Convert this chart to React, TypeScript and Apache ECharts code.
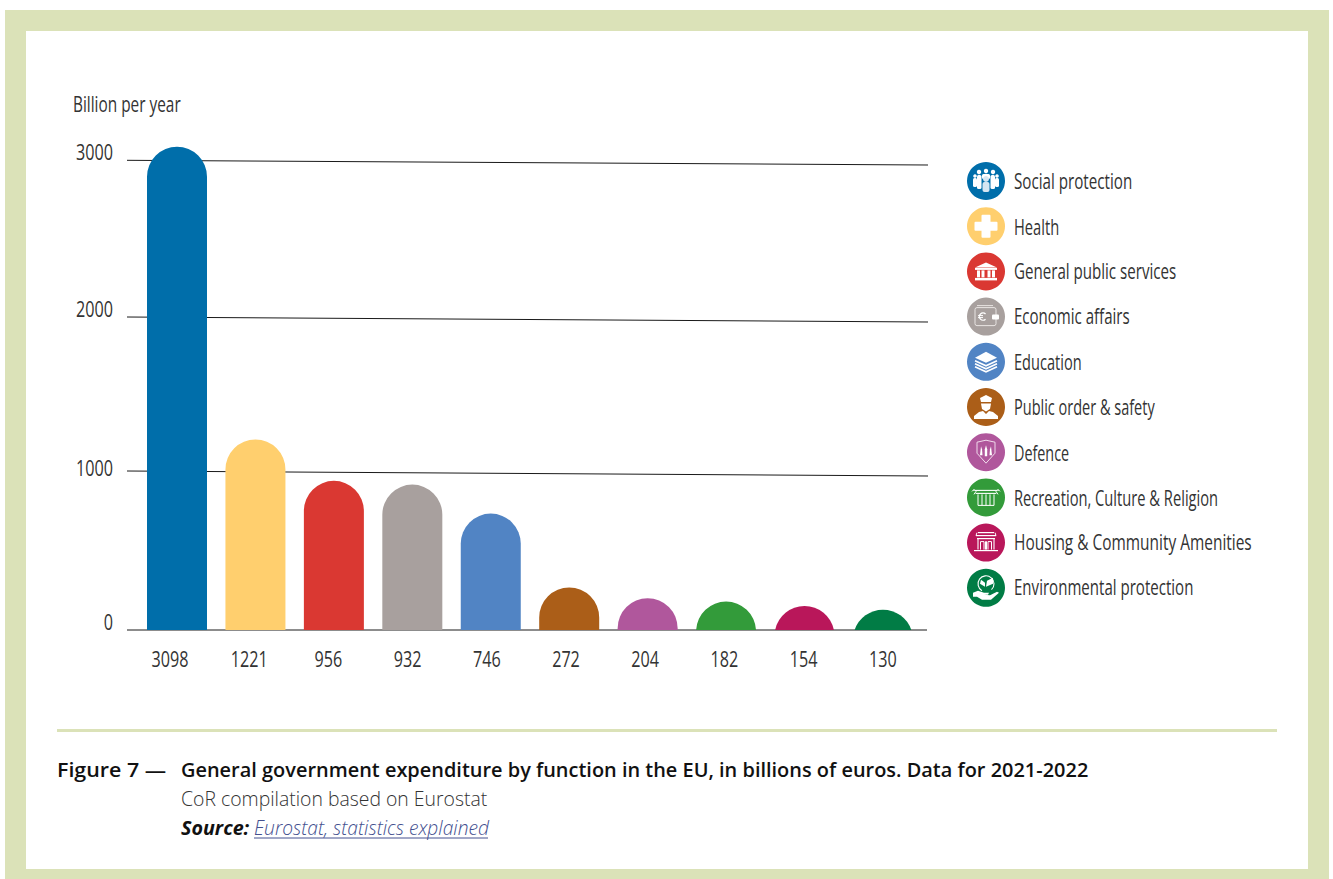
import React, { useEffect, useRef } from "react";
import * as echarts from "echarts";

const functions = [
  "Social protection",
  "Health",
  "General public services",
  "Economic affairs",
  "Education",
  "Public order & safety",
  "Defence",
  "Recreation, Culture & Religion",
  "Housing & Community Amenities",
  "Environmental protection",
];
const values = [3098, 1221, 956, 932, 746, 272, 204, 182, 154, 130];
const colors = ["#006eaa", "#ffcf6e", "#da3832", "#a8a09e", "#5184c4", "#ab5e18", "#b0579c", "#339b3a", "#b9175a", "#017c45"];
const gridValues = [1000, 2000, 3000];
const tickValues = [0, 1000, 2000, 3000];
const legendSqueeze = [0.69, 0.668, 0.687, 0.684, 0.663, 0.66, 0.653, 0.668, 0.702, 0.685];
const gridTilt: Record<number, [number, number]> = { 0: [0, 0], 1000: [-3, 2], 2000: [-1, 4], 3000: [-1.7, 3] };
const tickLift: Record<number, number> = { 0: -8.5, 1000: -6.5, 2000: -9.5, 3000: -10.5 };

const BODY = '"Open Sans","Noto Sans",sans-serif';
const FRAME = "#dbe2b8";
const TEXT = "#333333";
const COND = { fontFamily: BODY, fontSize: 22, fontWeight: 400 };

const W = "#ffffff";
const r = (x: number, y: number, w: number, h: number, fill = W, rad = 0) => ({ type: "rect", shape: { x, y, width: w, height: h, r: rad }, style: { fill }, z: 100 });
const c = (x: number, y: number, rad: number, fill = W) => ({ type: "circle", shape: { cx: x, cy: y, r: rad }, style: { fill }, z: 100 });
const p = (pts: number[][], fill = W) => ({ type: "polygon", shape: { points: pts }, style: { fill }, z: 100 });
const l = (pts: number[][], w = 1, stroke = W) => ({ type: "polyline", shape: { points: pts }, style: { stroke, lineWidth: w, fill: "none" }, z: 100 });

const glyphs: any[][] = [
  [
    c(-7, -9, 2.2), c(0, -10, 2.2), c(7, -9, 2.2), c(-11, -5, 1.8), c(11, -5, 1.8),
    r(-13, -3, 4, 9, W, 1.5), r(9, -3, 4, 9, W, 1.5), r(-9, -6, 4.5, 14, W, 1.5), r(4.5, -6, 4.5, 14, W, 1.5),
    r(-4, -7, 8, 5, W, 1.5), c(0, -2, 3, "#d5e6f2"), r(-3.5, 1, 7, 10, "#d5e6f2", 2),
  ],
  [r(-4.5, -11.5, 9, 23, W, 1), r(-11.5, -4.5, 23, 9, W, 1)],
  [
    p([[-11, -4], [0, -9], [11, -4]]), r(-11, -3.5, 22, 2),
    r(-9, -1, 3, 7), r(-4.5, -1, 3, 7), r(1.5, -1, 3, 7), r(6, -1, 3, 7), r(-11, 6.5, 22, 2.5),
  ],
  [
    { type: "rect", shape: { x: -11, y: -9, width: 21, height: 18, r: 2 }, style: { fill: "none", stroke: "#e8e4e2", lineWidth: 1 }, z: 100 },
    l([[-9, -11], [7, -11]], 1, "#e8e4e2"), r(6, -2, 7, 5, W, 1),
    { type: "arc", shape: { cx: -3, cy: 0, r: 3.6, startAngle: 0.8, endAngle: 5.5 }, style: { stroke: W, lineWidth: 1.3, fill: "none" }, z: 100 },
    l([[-8, -1], [-3, -1]], 1), l([[-8, 1], [-3, 1]], 1),
  ],
  [
    p([[-11, -4], [0, -10], [11, -4], [0, 1]]),
    l([[-11, -1], [0, 4], [11, -1]], 1.6), l([[-11, 2], [0, 7], [11, 2]], 1.6), l([[-11, 5], [0, 10], [11, 5]], 1.6),
  ],
  [
    p([[-6, -9], [0, -12], [6, -9], [5, -5], [-5, -5]]), r(-5, -5, 10, 1.2, "#ab5e18"),
    p([[-5, -3.6], [5, -3.6], [4, 2], [0, 4.5], [-4, 2]]),
    p([[-12, 12], [-12, 9], [-7, 5], [-3, 4], [0, 7], [3, 4], [7, 5], [12, 9], [12, 12]]),
  ],
  [
    l([[-9, -10], [0, -12], [9, -10], [9, 1], [0, 11], [-9, 1], [-9, -10]], 1, "#f0dcec"),
    p([[-5, -6], [-4, -3], [-3.5, 3], [-6, 3]]), p([[0, -7], [1.2, -3], [1.2, 4], [-1.2, 4], [-1.2, -3]]), p([[5, -6], [6, 3], [3.5, 3], [4, -3]]),
  ],
  [
    l([[-13, -7], [13, -7]], 1.1), l([[-11, -4], [11, -4]], 1.1),
    c(-12, -5, 2, "#339b3a"), c(12, -5, 2, "#339b3a"), l([[-14, -6], [-12, -8], [-10, -6], [-12, -3]], 1), l([[14, -6], [12, -8], [10, -6], [12, -3]], 1),
    l([[-8, -3], [-8, 8], [8, 8], [8, -3]], 1), l([[-4, -3], [-4, 8]], 1), l([[0, -3], [0, 8]], 1), l([[4, -3], [4, 8]], 1),
  ],
  [
    l([[-8, -10], [8, -10]], 1.2), l([[-10, -7], [10, -7]], 1.2), l([[-9, -10], [-10, -7]], 1), l([[9, -10], [10, -7]], 1),
    l([[-9, -4], [9, -4]], 1.2), l([[-8, -4], [-8, 7]], 1.1), l([[8, -4], [8, 7]], 1.1),
    l([[-5.5, 7], [-5.5, -1], [-2, -1], [-2, 7]], 1), l([[2, 7], [2, -1], [5.5, -1], [5.5, 7]], 1), l([[-.5, 7], [-.5, -1], [.5, -1], [.5, 7]], 1),
    l([[-12, 8], [12, 8]], 1.2),
  ],
  [
    { type: "arc", shape: { cx: 0, cy: -4, r: 8, startAngle: 2.1, endAngle: 7.1 }, style: { stroke: W, lineWidth: 1.1, fill: "none" }, z: 100 },
    p([[-1, -1], [-6, -4], [-5, -8], [-1, -5]]), p([[0, -1], [1, -7], [7, -10], [7, -4]]),
    p([[-13, 5], [-8, 3], [-2, 5], [3, 5], [2, 7], [-2, 7], [4, 7.5], [11, 4], [13, 5], [5, 12], [-4, 12], [-9, 9], [-13, 9]]),
  ],
];

const ICON_X = 986;
const ICON_Y0 = 181;
const ICON_STEP = 45.2;

const text = (str: string, x: number, y: number, font: any, sx = 1, fill = "#111111") => ({
  type: "text",
  x,
  y,
  scaleX: sx,
  style: { text: str, fill, fontFamily: BODY, verticalAlign: "middle", align: "left", ...font },
  z: 10,
});

function renderBar(params: any, api: any) {
  const idx = api.value(0);
  const top = api.coord([idx, api.value(1)]);
  const base = api.coord([idx, 0]);
  const cx = top[0];
  const rad = 30;
  const h = base[1] - top[1];
  const half = h >= rad ? rad : Math.sqrt(rad * rad - (rad - h) * (rad - h));
  const pathData =
    h >= rad
      ? `M${cx - rad} ${base[1]}L${cx - rad} ${top[1] + rad}A${rad} ${rad} 0 0 1 ${cx + rad} ${top[1] + rad}L${cx + rad} ${base[1]}Z`
      : `M${cx - half} ${base[1]}A${rad} ${rad} 0 0 1 ${cx + half} ${base[1]}Z`;
  return {
    type: "path",
    shape: { pathData, x: cx - half, y: top[1], width: half * 2, height: h, layout: "cover" },
    style: { fill: api.visual("color") },
  };
}

function renderGridLine(params: any, api: any) {
  const v = api.value(1);
  const y = api.coord([0, v])[1];
  const tilt = gridTilt[v];
  return {
    type: "line",
    shape: { x1: 127, y1: y + tilt[0], x2: v === 0 ? 927 : 928, y2: y + tilt[1] },
    style: { stroke: "#1a1a1a", lineWidth: 1 },
  };
}

function renderYLabel(params: any, api: any) {
  const v = api.value(1);
  const y = api.coord([0, v])[1];
  return {
    type: "text",
    x: 113,
    y: y + tickLift[v],
    scaleX: 0.735,
    style: { ...COND, text: String(v), fill: TEXT, align: "right", verticalAlign: "middle" },
  };
}

function renderXLabel(params: any, api: any) {
  const idx = api.value(0);
  const pt = api.coord([idx, 0]);
  return {
    type: "text",
    x: pt[0],
    y: pt[1] + 28,
    scaleX: 0.735,
    style: { ...COND, text: String(api.value(1)), fill: TEXT, align: "center", verticalAlign: "middle" },
  };
}

export default function App() {
  const ref = useRef<HTMLDivElement>(null);
  useEffect(() => {
    const chart = echarts.init(ref.current!, undefined, { renderer: "svg" });
    const graphic: any[] = [
      { type: "rect", shape: { x: 5, y: 10, width: 1324, height: 869 }, style: { fill: FRAME }, z: -10 },
      { type: "rect", shape: { x: 26, y: 31, width: 1282, height: 838 }, style: { fill: "#ffffff" }, z: -9 },
      { type: "rect", shape: { x: 57, y: 729, width: 1220, height: 3 }, style: { fill: FRAME }, z: -8 },
      text("Billion per year", 73, 104, COND, 0.7, TEXT),
      text("Figure 7 —", 57, 769, { fontSize: 20, fontWeight: 600 }, 1.07),
      text("General government expenditure by function in the EU, in billions of euros. Data for 2021-2022", 181, 769, { fontSize: 20, fontWeight: 600 }, 0.997),
      text("CoR compilation based on Eurostat", 181, 798, { fontSize: 20, fontWeight: 300 }, 0.97, "#333333"),
      text("Source:", 181, 827, { fontSize: 20, fontWeight: 700, fontStyle: "italic" }, 0.985),
      text("Eurostat, statistics explained", 254, 827, { fontSize: 20, fontWeight: 300, fontStyle: "italic" }, 0.96, "#44508f"),
      { type: "line", shape: { x1: 254, y1: 838, x2: 488, y2: 838 }, style: { stroke: "#44508f", lineWidth: 1 }, z: 10 },
      ...glyphs.map((children, i) => ({ type: "group", x: ICON_X, y: ICON_Y0 + i * ICON_STEP, z: 100, children })),
      ...functions.map((name, i) => text(name, 1014, ICON_Y0 - 0.5 + i * ICON_STEP, COND, legendSqueeze[i], TEXT)),
    ];
    chart.setOption({
      animation: false,
      backgroundColor: "#ffffff",
      graphic,
      legend: {
        data: functions,
        orient: "vertical",
        left: 967,
        top: 162,
        icon: "circle",
        itemWidth: 38,
        itemHeight: 38,
        itemGap: 7.2,
        selectedMode: false,
        padding: 0,
        formatter: () => "",
      },
      grid: [
        { left: 137.78, width: 784.4, top: 6, bottom: 249 },
        { left: 130.4, width: 792, top: 6, bottom: 249 },
      ],
      xAxis: [
        { type: "category", gridIndex: 0, data: functions, axisLine: { show: false }, axisTick: { show: false }, axisLabel: { show: false } },
        { type: "category", gridIndex: 1, data: values.map(String), axisLine: { show: false }, axisTick: { show: false }, axisLabel: { show: false } },
      ],
      yAxis: [
        {
          type: "value",
          gridIndex: 0,
          min: 0,
          max: 4000,
          interval: 1000,
          axisLine: { show: false },
          axisTick: { show: false },
          splitLine: { show: false },
          axisLabel: { show: false },
        },
        { type: "value", gridIndex: 1, min: 0, max: 4000, show: false, splitLine: { show: false } },
      ],
      series: [
        {
          type: "custom",
          name: "grid lines",
          xAxisIndex: 0,
          yAxisIndex: 0,
          z: 1,
          silent: true,
          renderItem: renderGridLine,
          encode: { x: 0, y: 1 },
          data: [0, ...gridValues].map((v) => [0, v]),
        },
        {
          type: "custom",
          name: "y labels",
          xAxisIndex: 0,
          yAxisIndex: 0,
          silent: true,
          renderItem: renderYLabel,
          encode: { x: 0, y: 1 },
          data: tickValues.map((v) => [0, v]),
        },
        {
          type: "custom",
          name: "x labels",
          xAxisIndex: 1,
          yAxisIndex: 1,
          silent: true,
          renderItem: renderXLabel,
          encode: { x: 0, y: 1 },
          data: values.map((v, i) => [i, v]),
        },
        ...functions.map((name, i) => ({
          type: "custom",
          name,
          xAxisIndex: 0,
          yAxisIndex: 0,
          z: 3,
          itemStyle: { color: colors[i] },
          renderItem: renderBar,
          encode: { x: 0, y: 1 },
          data: [[i, values[i]]],
        })),
      ],
    });
    return () => chart.dispose();
  }, []);
  return <div ref={ref} style={{ position: "absolute", left: 0, top: 0, width: 1333, height: 879 }} />;
}
